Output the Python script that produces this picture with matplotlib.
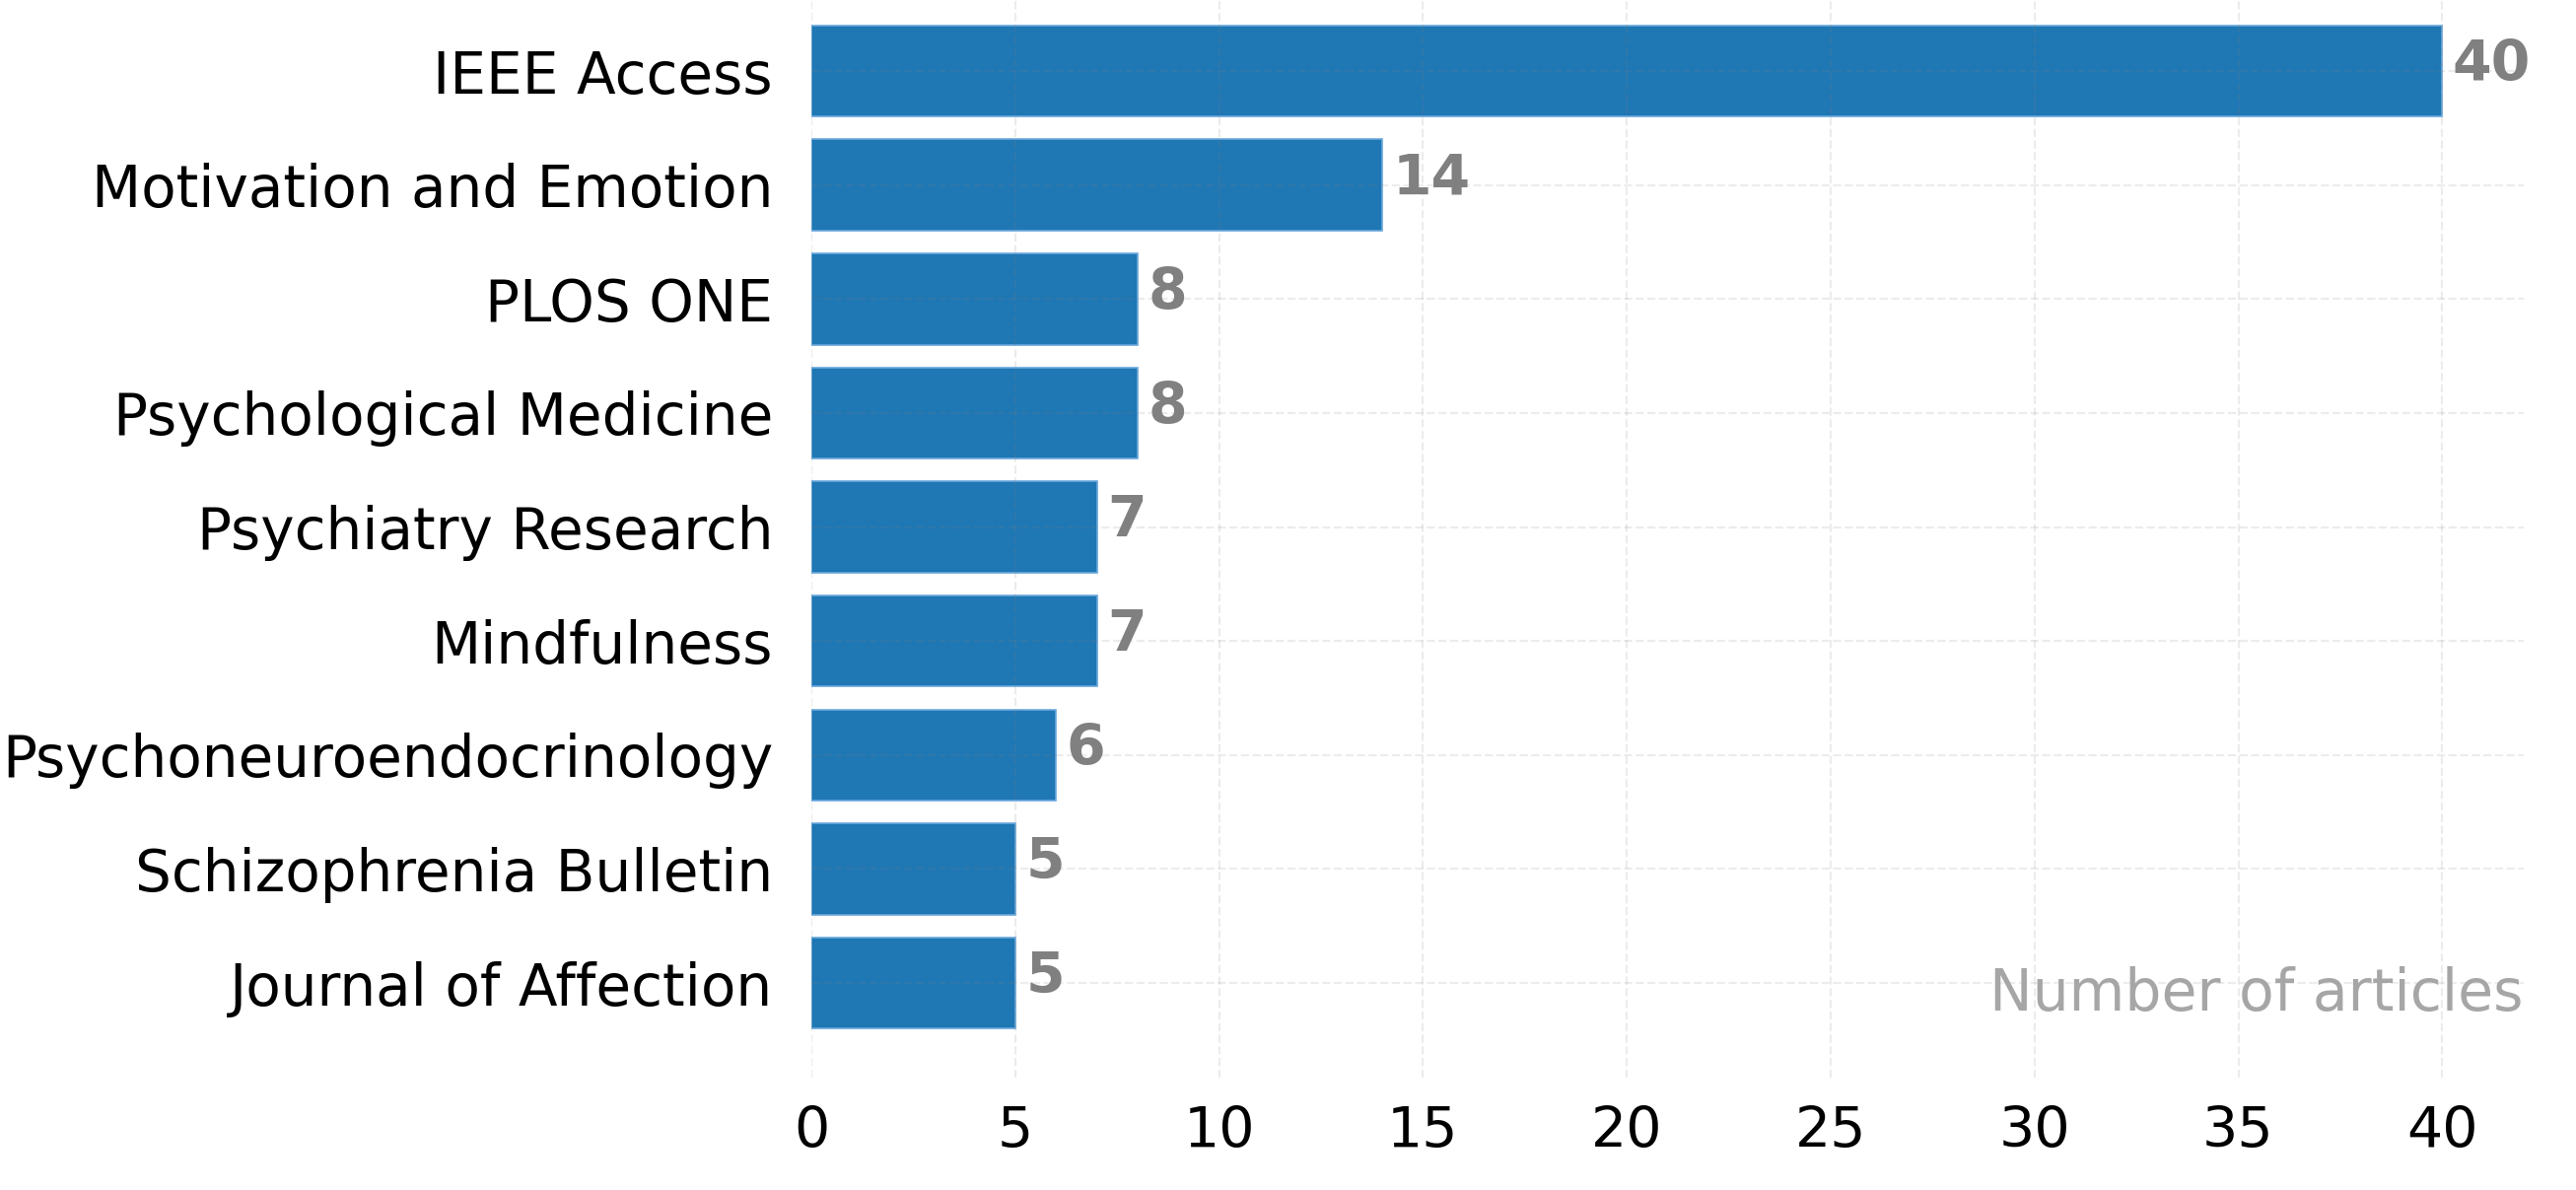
import matplotlib
matplotlib.use("Agg")
import matplotlib.pyplot as plt

journals = ["IEEE Access", "Motivation and Emotion", "PLOS ONE", "Psychological Medicine",
            "Psychiatry Research", "Mindfulness", "Psychoneuroendocrinology",
            "Schizophrenia Bulletin", "Journal of Affection"]
counts = [40, 14, 8, 8, 7, 7, 6, 5, 5]
xticks = [0, 5, 10, 15, 20, 25, 30, 35, 40]

plt.rcParams['font.family'] = ['DejaVu Sans']
fig = plt.figure(figsize=(2613/200, 1207/200), dpi=200)
ax = fig.add_axes([823/2613, 1 - 1093/1207, (2560-823)/2613, 1093/1207])

ypos = list(range(len(journals)))
bars = ax.barh(ypos, counts, height=0.8, color="#1f77b4", edgecolor="#6aa8dc", linewidth=0.6, zorder=1)
ax.set_yticks(ypos)
ax.set_yticklabels(journals)
ax.set_xticks(xticks)
ax.set_xlim(0, 42)
ax.set_ylim(8.83, -0.623)

for b, v in zip(bars, counts):
    ax.annotate(str(v), (b.get_width(), b.get_y() + b.get_height()/2),
                xytext=(3.8, 2), textcoords="offset points",
                ha="left", va="center", fontsize=20.5, fontweight="bold", color="#808080")

ax.grid(True, ls="--", color="gray", alpha=0.15, lw=0.8, zorder=3)
ax.set_axisbelow(False)
for s in ax.spines.values():
    s.set_visible(False)
ax.tick_params(axis="y", length=0, pad=14, labelsize=20.9)
ax.tick_params(axis="x", length=0, pad=10, labelsize=20.5)

ax.text(1.0, 0.062, "Number of articles", transform=ax.transAxes, ha="right", va="baseline",
        fontsize=21, color="#a6a6a6")

fig.savefig("out.png", dpi=200)
